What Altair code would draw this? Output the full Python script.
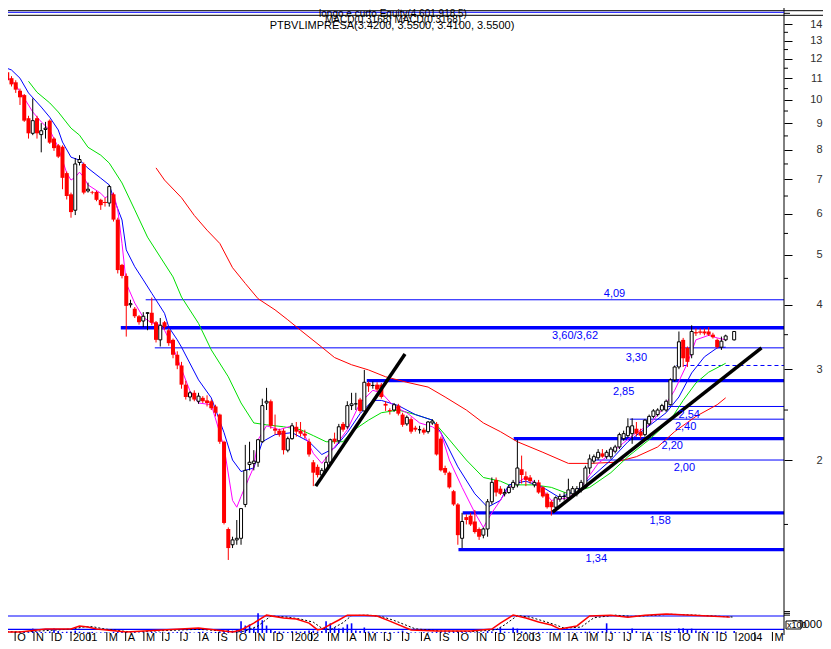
import altair as alt
import pandas as pd

FONT = "Liberation Sans"

# ---------------- weekly candles ----------------
first_week = "2000-09-04"
n_weeks = 174          # index 172 has no printed bar

opens = [12.0, 11.8, 11.3, 11.0, 10.8, 10.4, 10.2, 9.2, 8.6, 9.2,
         8.55, 8.75, 9.1, 8.4, 8.15, 8.1, 7.2, 6.55, 6.1, 7.55,
         7.5, 6.65, 6.62, 6.62, 6.39, 6.33, 6.3, 6.55, 5.85, 4.78,
         4.55, 4.0, 3.93, 3.8, 3.72, 3.85, 3.86, 3.7, 3.42, 3.7,
         3.57, 3.42, 3.2, 3.05, 2.8, 2.65, 2.7, 2.6, 2.64, 2.61,
         2.6, 2.54, 2.45, 2.17, 1.47, 1.37, 1.40, 1.41, 1.64, 1.96,
         1.97, 1.98, 2.17, 2.58, 2.6, 2.3, 2.28, 2.28, 2.09, 2.2,
         2.32, 2.28, 2.25, 2.17, 1.98, 1.94, 1.87, 1.91, 1.98, 2.2,
         2.18, 2.35, 2.32, 2.55, 2.57, 2.62, 2.49, 2.82, 2.79, 2.8,
         2.8, 2.57, 2.5, 2.5, 2.55, 2.45, 2.35, 2.4, 2.31, 2.29,
         2.29, 2.27, 2.36, 2.35, 2.2, 1.93, 1.89, 1.74, 1.64, 1.41,
         1.55, 1.56, 1.52, 1.47, 1.43, 1.47, 1.66, 1.83, 1.76, 1.72,
         1.73, 1.77, 1.79, 1.92, 1.86, 1.85, 1.79, 1.81, 1.77, 1.72,
         1.66, 1.62, 1.68, 1.7, 1.69, 1.72, 1.72, 1.75, 1.77, 1.93,
         1.99, 2.02, 2.06, 2.03, 2.03, 2.08, 2.12, 2.2, 2.23, 2.25,
         2.3, 2.27, 2.24, 2.35, 2.43, 2.45, 2.5, 2.5, 2.56, 2.86,
         3.03, 3.42, 3.3, 3.2, 3.54, 3.55, 3.55, 3.55, 3.5, 3.42,
         3.31, 3.42, None, 3.42]

highs = [12.2, 12.0, 11.4, 11.1, 10.9, 10.5, 10.25, 9.3, 10.05, 9.3,
         9.0, 9.05, 9.15, 8.45, 8.2, 8.15, 7.25, 6.6, 7.7, 7.8,
         7.55, 6.9, 6.65, 6.65, 6.42, 6.45, 6.83, 6.6, 5.9, 4.8,
         4.6, 4.09, 3.96, 3.82, 3.87, 3.87, 4.13, 3.72, 3.77, 3.72,
         3.6, 3.44, 3.25, 3.1, 2.85, 2.72, 2.73, 2.7, 2.66, 2.67,
         2.62, 2.56, 2.46, 2.18, 1.48, 1.42, 1.53, 1.61, 2.14, 2.17,
         2.09, 2.19, 2.63, 2.76, 2.62, 2.45, 2.3, 2.3, 2.22, 2.36,
         2.37, 2.37, 2.29, 2.2, 2.0, 1.96, 1.93, 2.03, 2.2, 2.26,
         2.35, 2.37, 2.6, 2.7, 2.7, 2.64, 2.99, 2.84, 2.84, 2.83,
         2.82, 2.6, 2.52, 2.58, 2.57, 2.47, 2.44, 2.42, 2.33, 2.33,
         2.31, 2.38, 2.4, 2.37, 2.22, 1.95, 1.9, 1.75, 1.65, 1.58,
         1.57, 1.58, 1.6, 1.48, 1.48, 1.68, 1.85, 1.85, 1.78, 1.76,
         1.79, 1.83, 2.19, 2.04, 1.9, 1.87, 1.83, 1.83, 1.78, 1.73,
         1.67, 1.7, 1.72, 1.73, 1.84, 1.78, 1.78, 1.83, 1.95, 2.05,
         2.05, 2.1, 2.1, 2.09, 2.12, 2.14, 2.26, 2.28, 2.41, 2.41,
         2.37, 2.3, 2.4, 2.45, 2.51, 2.52, 2.57, 2.62, 2.88, 3.05,
         3.55, 3.45, 3.32, 3.65, 3.6, 3.6, 3.6, 3.62, 3.53, 3.44,
         3.47, 3.5, None, 3.55]

lows = [11.7, 11.2, 10.7, 10.6, 10.3, 9.76, 9.05, 8.4, 8.53, 8.4,
        7.9, 8.4, 8.2, 7.95, 7.7, 6.7, 6.4, 5.9, 5.97, 7.45,
        6.55, 6.6, 6.55, 6.35, 6.11, 6.2, 6.2, 5.8, 4.6, 4.5,
        3.47, 3.95, 3.77, 3.66, 3.62, 3.57, 3.65, 3.38, 3.32, 3.58,
        3.33, 3.15, 3.0, 2.75, 2.62, 2.6, 2.6, 2.57, 2.58, 2.54,
        2.5, 2.43, 2.15, 1.5, 1.28, 1.35, 1.37, 1.37, 1.62, 1.91,
        1.91, 1.94, 2.16, 2.5, 2.3, 2.24, 2.22, 2.05, 2.07, 2.19,
        2.22, 2.22, 2.2, 2.03, 1.78, 1.85, 1.85, 1.89, 1.97, 2.15,
        2.15, 2.27, 2.3, 2.5, 2.5, 2.47, 2.48, 2.71, 2.75, 2.72,
        2.63, 2.49, 2.45, 2.48, 2.44, 2.32, 2.33, 2.25, 2.27, 2.25,
        2.24, 2.25, 2.34, 2.04, 1.9, 1.87, 1.76, 1.63, 1.37, 1.35,
        1.5, 1.49, 1.44, 1.4, 1.41, 1.42, 1.64, 1.7, 1.71, 1.7,
        1.72, 1.75, 1.77, 1.8, 1.78, 1.8, 1.77, 1.72, 1.69, 1.61,
        1.56, 1.6, 1.66, 1.67, 1.67, 1.7, 1.7, 1.73, 1.76, 1.88,
        1.97, 2.0, 2.02, 2.01, 2.01, 2.06, 2.1, 2.18, 2.21, 2.15,
        2.22, 2.2, 2.22, 2.33, 2.41, 2.43, 2.48, 2.48, 2.55, 2.84,
        3.0, 3.03, 3.03, 3.15, 3.48, 3.5, 3.49, 3.48, 3.44, 3.29,
        3.27, 3.4, None, 3.41]

closes = [11.8, 11.3, 10.9, 10.7, 10.45, 10.1, 9.1, 8.6, 9.1, 8.6,
          8.7, 8.8, 8.25, 8.05, 7.75, 7.05, 6.5, 6.05, 7.5, 7.65,
          6.6, 6.7, 6.6, 6.39, 6.24, 6.3, 6.78, 5.85, 4.67, 4.55,
          3.98, 4.02, 3.8, 3.7, 3.8, 3.86, 3.69, 3.42, 3.65, 3.62,
          3.37, 3.2, 3.05, 2.8, 2.65, 2.7, 2.62, 2.66, 2.6, 2.58,
          2.52, 2.47, 2.17, 1.51, 1.35, 1.4, 1.41, 1.61, 1.91, 1.98,
          1.99, 2.19, 2.55, 2.6, 2.33, 2.28, 2.24, 2.09, 2.2, 2.33,
          2.27, 2.25, 2.23, 2.05, 1.89, 1.87, 1.91, 1.98, 2.19, 2.17,
          2.32, 2.29, 2.55, 2.57, 2.57, 2.49, 2.83, 2.78, 2.79, 2.74,
          2.65, 2.55, 2.49, 2.56, 2.46, 2.34, 2.42, 2.27, 2.29, 2.29,
          2.26, 2.37, 2.38, 2.05, 1.91, 1.89, 1.77, 1.64, 1.43, 1.52,
          1.53, 1.5, 1.45, 1.42, 1.47, 1.66, 1.81, 1.73, 1.72, 1.73,
          1.77, 1.81, 1.93, 1.87, 1.83, 1.82, 1.81, 1.73, 1.7, 1.62,
          1.62, 1.69, 1.7, 1.7, 1.75, 1.76, 1.76, 1.81, 1.93, 2.01,
          2.03, 2.07, 2.03, 2.07, 2.1, 2.12, 2.24, 2.25, 2.32, 2.33,
          2.25, 2.23, 2.39, 2.43, 2.49, 2.5, 2.55, 2.6, 2.86, 3.03,
          3.39, 3.15, 3.1, 3.55, 3.52, 3.53, 3.52, 3.5, 3.46, 3.31,
          3.4, 3.48, None, 3.55]

# weekly volume, thousands
volume_k = [6, 5, 7, 5, 6, 8, 9, 7, 23, 9,
            8, 7, 10, 23, 12, 8, 9, 10, 14, 9,
            7, 6, 8, 5, 6, 7, 5, 9, 10, 12,
            8, 6, 7, 5, 6, 5, 8, 7, 6, 5,
            7, 6, 8, 9, 7, 6, 5, 8, 9, 6,
            7, 8, 10, 12, 18, 14, 20, 56, 37, 42,
            25, 93, 61, 37, 19, 12, 10, 9, 8, 12,
            10, 9, 11, 14, 14, 10, 12, 56, 47, 28,
            23, 28, 42, 47, 14, 12, 28, 10, 9, 8,
            7, 8, 6, 7, 9, 14, 6, 5, 6, 5,
            6, 5, 7, 9, 8, 6, 7, 8, 10, 9,
            7, 6, 5, 6, 8, 12, 10, 8, 28, 9,
            7, 28, 23, 10, 8, 7, 6, 8, 6, 7,
            8, 6, 5, 6, 7, 6, 5, 8, 9, 10,
            8, 9, 12, 47, 10, 8, 7, 6, 9, 23,
            12, 8, 7, 9, 6, 8, 10, 12, 14, 9,
            23, 25, 20, 23, 14, 10, 12, 8, 9, 11,
            8, 10, None, 12]

# ---------------- moving averages: (week index, value) ----------------
ma_magenta = [(0, 11.45), (4, 10.67), (7, 9.76), (8, 9.46), (10, 9.05), (12, 8.73), (14, 8.08),
              (16, 7.2), (17, 6.98), (18, 7.07), (19, 7.23), (20, 7.07), (21, 6.83), (24, 6.58),
              (25, 6.45), (27, 6.58), (28, 6.11), (29, 5.26), (30, 4.4), (32, 4.03), (34, 3.78),
              (36, 3.69), (38, 3.65), (39, 3.57), (41, 3.31), (43, 3.0), (45, 2.72), (47, 2.58),
              (50, 2.56), (53, 2.12), (55, 1.67), (56, 1.62), (57, 1.70), (60, 1.94), (61, 2.19),
              (63, 2.33), (66, 2.29), (69, 2.33), (72, 2.23), (74, 2.06), (76, 1.97), (79, 2.12),
              (82, 2.29), (85, 2.58), (88, 2.73), (90, 2.70), (93, 2.54), (96, 2.47), (99, 2.36),
              (102, 2.32), (104, 2.26), (106, 2.0), (109, 1.77), (112, 1.58), (114, 1.48),
              (116, 1.58), (118, 1.67), (120, 1.77), (124, 1.85), (127, 1.79), (130, 1.67),
              (134, 1.69), (137, 1.77), (141, 1.97), (144, 2.06), (147, 2.16), (150, 2.26),
              (153, 2.34), (156, 2.50), (159, 2.73), (162, 3.08), (164, 3.42), (167, 3.49),
              (169, 3.45), (171, 3.42)]
ma_blue = [(0, 11.66), (3, 11.41), (5, 11.0), (7, 10.3), (10, 9.67), (12, 9.24), (14, 8.73),
           (15, 8.27), (17, 7.73), (19, 7.63), (21, 7.36), (24, 7.04), (26, 6.83), (27, 6.45),
           (29, 5.84), (30, 5.11), (32, 4.74), (34, 4.47), (36, 4.21), (39, 3.85), (40, 3.62),
           (42, 3.42), (43, 3.31), (47, 2.86), (50, 2.64), (53, 2.26), (55, 2.0), (57, 1.90),
           (60, 1.93), (62, 2.17), (65, 2.24), (69, 2.26), (73, 2.17), (76, 2.05), (79, 2.11),
           (82, 2.26), (85, 2.46), (88, 2.61), (90, 2.61), (94, 2.55), (98, 2.45), (102, 2.39),
           (104, 2.26), (108, 1.94), (112, 1.72), (115, 1.62), (118, 1.67), (120, 1.79),
           (124, 1.82), (128, 1.77), (132, 1.69), (136, 1.75), (140, 1.87), (144, 2.0),
           (148, 2.17), (153, 2.33), (157, 2.47), (160, 2.65), (163, 2.95), (166, 3.17),
           (169, 3.30), (171, 3.31)]
ma_green = [(7, 10.85), (9, 10.33), (12, 9.85), (14, 9.46), (17, 8.8), (19, 8.53), (21, 8.08),
            (24, 7.8), (26, 7.53), (29, 6.89), (32, 6.11), (35, 5.41), (38, 4.95), (41, 4.53),
            (43, 4.14), (47, 3.68), (50, 3.27), (54, 2.90), (57, 2.58), (60, 2.36), (63, 2.34),
            (67, 2.32), (71, 2.29), (74, 2.23), (77, 2.17), (81, 2.17), (83, 2.27), (87, 2.39),
            (90, 2.47), (94, 2.50), (98, 2.45), (102, 2.39), (106, 2.19), (110, 2.0),
            (114, 1.85), (118, 1.82), (120, 1.79), (126, 1.79), (130, 1.77), (134, 1.72),
            (139, 1.77), (144, 1.89), (148, 2.03), (153, 2.19), (158, 2.39), (161, 2.61),
            (164, 2.82), (167, 2.96), (171, 3.08)]
ma_red = [(37, 7.37), (39, 6.98), (43, 6.45), (46, 5.96), (49, 5.58), (52, 5.26), (55, 4.72),
          (58, 4.4), (61, 4.11), (65, 3.91), (68, 3.74), (71, 3.57), (76, 3.31), (79, 3.16),
          (83, 3.06), (87, 2.99), (91, 2.90), (96, 2.83), (101, 2.77), (105, 2.65), (110, 2.50),
          (114, 2.36), (118, 2.27), (122, 2.17), (128, 2.07), (134, 1.97), (139, 1.97),
          (145, 1.98), (150, 2.03), (155, 2.12), (159, 2.27), (164, 2.43), (169, 2.56),
          (171, 2.64)]

# ---------------- oscillator (lower panel, 0-100) ----------------
osc_red = [(0, 8), (5, 8), (11, 21), (17, 21), (19, 35), (21, 30), (23, 21), (30, 8), (47, 26),
           (55, 8), (57, 17), (60, 48), (63, 84), (67, 71), (70, 66), (73, 48), (75, 17),
           (76, 21), (80, 62), (82, 84), (86, 84), (89, 80), (92, 57), (97, 17), (103, 12),
           (111, 12), (116, 21), (118, 48), (121, 84), (124, 71), (127, 53), (130, 39),
           (132, 21), (136, 35), (139, 80), (144, 84), (148, 75), (152, 84), (157, 89),
           (163, 84), (167, 80), (172, 75)]
osc_black = [(0, 10), (6, 8), (12, 15), (17, 21), (20, 30), (22, 32), (25, 21), (31, 8),
             (47, 20), (56, 8), (58, 12), (61, 35), (64, 80), (68, 75), (71, 66), (74, 52),
             (76, 25), (78, 18), (81, 50), (83, 82), (87, 84), (90, 78), (93, 60), (98, 22),
             (104, 12), (112, 10), (117, 18), (119, 40), (122, 82), (125, 75), (128, 58),
             (131, 40), (133, 25), (137, 30), (140, 72), (145, 84), (149, 78), (153, 82),
             (158, 88), (164, 84), (168, 80), (173, 75)]
osc_levels = [20, 80]

# ---------------- support / resistance levels ----------------
level_values = [4.09, 3.61, 3.30, 2.85, 2.54, 2.40, 2.20, 2.00, 1.58, 1.34]
level_starts = ["2001-05-04", "2001-03-24", "2001-05-19", "2002-05-03", "2003-09-02",
                "2003-07-10", "2002-12-31", "2003-05-08", "2002-10-08", "2002-10-01"]
level_thick = [False, True, False, True, False, False, True, False, True, True]
dashed_level = (3.05, "2003-09-25")

label_texts = ["4,09", "3,60/3,62", "3,30", "2,85", "2,54", "2,40", "2,20", "2,00", "1,58", "1,34"]
label_dates = ["2003-06-15", "2003-04-11", "2003-07-21", "2003-06-30", "2003-10-16",
               "2003-10-10", "2003-09-18", "2003-10-08", "2003-08-29", "2003-05-16"]
label_prices = [4.2, 3.48, 3.16, 2.71, 2.45, 2.32, 2.13, 1.93, 1.52, 1.285]

# trend lines: (date, price) end points
trend_lines = {
    "t1": [("2002-02-08", 1.78), ("2002-07-05", 3.21)],
    "t2": [("2003-03-05", 1.585), ("2004-02-12", 3.30)],
}

# axis ticks
price_ticks = [2, 3, 4, 5, 6, 7, 8, 9, 10, 11, 12, 13, 14]
price_minor = [1.5, 2.5, 3.5, 4.5, 5.5, 6.5, 7.5, 8.5, 9.5, 10.5, 11.5, 12.5, 13.5]
month_labels = ["O", "N", "D",
                "2001", "", "M", "A", "M", "J", "J", "A", "S", "O", "N", "D",
                "2002", "", "M", "A", "M", "J", "J", "A", "S", "O", "N", "D",
                "2003", "", "M", "A", "M", "J", "J", "A", "S", "O", "N", "D",
                "2004", "", "M"]

# ======================================================================
for arr in (opens, highs, lows, closes, volume_k):
    assert len(arr) == n_weeks, len(arr)

weeks = pd.date_range(first_week, periods=n_weeks, freq="7D")
wk = [d.strftime("%Y-%m-%d") for d in weeks]

candles = pd.DataFrame({"date": wk, "open": opens, "high": highs, "low": lows,
                        "close": closes, "vol": volume_k}).dropna()

def series_df(pairs, name):
    return pd.DataFrame({"date": [wk[i] for i, _ in pairs],
                         "value": [v for _, v in pairs], "series": name})

ma_df = pd.concat([series_df(ma_red, "red"), series_df(ma_green, "green"),
                   series_df(ma_blue, "blue"), series_df(ma_magenta, "magenta")])
osc_r = series_df(osc_red, "k")
osc_b = series_df(osc_black, "d")

# layout geometry: plot area 776 x 625 px, whole svg 815 x 633 px
W, H = 776, 625
PAD_R, PAD_B = 39, 8
t0 = pd.Timestamp("2001-01-01")
px_day = 0.6073
x_lo = t0 + pd.Timedelta(days=-63 / px_day)
x_hi = t0 + pd.Timedelta(days=(W - 63) / px_day)
x_dom = [int(x_lo.value // 1_000_000), int(x_hi.value // 1_000_000)]
end_date = x_hi.strftime("%Y-%m-%dT%H:%M:%S")

x_scale = alt.Scale(type="utc", domain=x_dom, padding=0)
X = alt.X("date:T", scale=x_scale, axis=None)

y_main = alt.Scale(type="log", domain=[1.0147, 14.52], range=[604, 8], nice=False, zero=False)
y_low = alt.Scale(type="linear", domain=[0, 100], range=[625.7, 603.6], nice=False, zero=False)

Y_AXIS = alt.Axis(orient="right", values=price_ticks, tickSize=8, tickColor="black",
                  labelAlign="right", labelPadding=30, labelBaseline="middle",
                  labelFont=FONT, labelFontSize=11, labelColor="#303030",
                  domain=False, grid=False, title=None, labelOverlap=False,
                  labelFlush=False, format="d")

def YM(field):
    return alt.Y(field, scale=y_main, axis=Y_AXIS)

def YL(field):
    return alt.Y(field, scale=y_low, axis=None)

up = "datum.close >= datum.open"
wicks = alt.Chart(candles).mark_rule(strokeWidth=1, clip=True).encode(
    x=X, y=YM("low:Q"), y2="high:Q",
    color=alt.condition(up, alt.value("black"), alt.value("#ff0000")))
body_up = alt.Chart(candles).transform_filter(up).mark_bar(
    size=3, fill="white", stroke="black", strokeWidth=1, clip=True).encode(
    x=X, y=YM("open:Q"), y2="close:Q")
body_dn = alt.Chart(candles).transform_filter("datum.close < datum.open").mark_bar(
    size=4, color="#ff0000", clip=True).encode(x=X, y=YM("open:Q"), y2="close:Q")

ma_lines = alt.Chart(ma_df).mark_line(strokeWidth=1, clip=True).encode(
    x=X, y=YM("value:Q"),
    color=alt.Color("series:N", legend=None,
                    scale=alt.Scale(domain=["red", "green", "blue", "magenta"],
                                    range=["#ff0000", "#00e000", "#0000ff", "#ff00ff"])),
    detail="series:N")

lv = pd.DataFrame({"value": level_values, "start": level_starts, "thick": level_thick,
                   "end": end_date})
lv_thick = alt.Chart(lv).transform_filter("datum.thick").mark_rule(
    strokeWidth=3.3, color="#0000ff", clip=True).encode(
    x=alt.X("start:T", scale=x_scale, axis=None), x2="end:T", y=YM("value:Q"))
lv_thin = alt.Chart(lv).transform_filter("!datum.thick").mark_rule(
    strokeWidth=1, color="#0000ff", clip=True).encode(
    x=alt.X("start:T", scale=x_scale, axis=None), x2="end:T", y=YM("value:Q"))
lv_dash = alt.Chart(pd.DataFrame({"value": [dashed_level[0]], "start": [dashed_level[1]],
                                  "end": [end_date]})).mark_rule(
    strokeWidth=1, color="#0000ff", strokeDash=[4, 3], clip=True).encode(
    x=alt.X("start:T", scale=x_scale, axis=None), x2="end:T", y=YM("value:Q"))

lab = pd.DataFrame({"date": label_dates, "price": label_prices, "text": label_texts})
labels = alt.Chart(lab).mark_text(font=FONT, fontSize=11, color="#0000ff",
                                  baseline="middle", align="center").encode(
    x=X, y=YM("price:Q"), text="text:N")

tl = pd.DataFrame([{"line": k, "date": d, "price": p}
                   for k, pts in trend_lines.items() for d, p in pts])
trends = alt.Chart(tl).mark_line(strokeWidth=3.5, color="black", clip=True).encode(
    x=X, y=YM("price:Q"), detail="line:N")

minor = alt.Chart(pd.DataFrame({"v": price_minor})).mark_rule(color="black").encode(
    x=alt.value(W), x2=alt.value(W + 4), y=YM("v:Q"))

main = alt.layer(lv_thin, lv_dash, lv_thick, ma_lines, wicks, body_dn, body_up,
                 trends, labels, minor)

# ---------------- lower panel ----------------
vol = alt.Chart(candles).mark_bar(size=1.6, color="#0000ff", clip=True).encode(
    x=X, y=YL("vol:Q"))
osc_lv = alt.Chart(pd.DataFrame({"v": osc_levels})).mark_rule(
    color="#0000ff", strokeWidth=1.2).encode(x=alt.value(0), x2=alt.value(W), y=YL("v:Q"))
osc_d = alt.Chart(osc_b).mark_line(color="black", strokeWidth=1, strokeDash=[2, 2],
                                   clip=True).encode(x=X, y=YL("value:Q"))
osc_k = alt.Chart(osc_r).mark_line(color="#ff0000", strokeWidth=1.5,
                                   clip=True).encode(x=X, y=YL("value:Q"))
low_ticks = alt.Chart(pd.DataFrame({"v": [100, 92, 84]})).mark_rule(color="black").encode(
    x=alt.value(W), x2=alt.value(W + 6), y=YL("v:Q"))
lower = alt.layer(vol, osc_lv, osc_d, osc_k, low_ticks)

# ---------------- decorations: frame, x labels, header ----------------
months = pd.date_range("2000-10-01", periods=len(month_labels), freq="MS")
mdf = pd.DataFrame({"date": [d.strftime("%Y-%m-%d") for d in months], "text": month_labels})
m_ticks = alt.Chart(mdf).mark_rule(color="black").encode(
    x=X, y=alt.value(H - 1), y2=alt.value(H + PAD_B))
m_text = alt.Chart(mdf).mark_text(font=FONT, fontSize=11, align="left", baseline="alphabetic",
                                  dx=2, color="black").encode(
    x=X, y=alt.value(H + PAD_B - 0.5), text="text:N")

one = pd.DataFrame({"a": [0]})
axis_line = alt.Chart(one).mark_rule(color="black").encode(
    x=alt.value(W), y=alt.value(0), y2=alt.value(H + 2))
top_l1 = alt.Chart(one).mark_rule(color="black").encode(
    x=alt.value(0), x2=alt.value(W + PAD_R), y=alt.value(2.7))
top_l2 = alt.Chart(one).mark_rule(color="black").encode(
    x=alt.value(0), x2=alt.value(W + PAD_R), y=alt.value(7.3))
top_blue = alt.Chart(one).mark_rule(color="#0000ff").encode(
    x=alt.value(0), x2=alt.value(W), y=alt.value(4.3))
top_tick = alt.Chart(one).mark_rule(color="black").encode(
    x=alt.value(W), x2=alt.value(W + 6), y=alt.value(5.3))

head = pd.DataFrame({"text": ["longo e curto Equity(4,601,918.5)",
                              "MACD(0.3168) MACD(0.3168)",
                              "PTBVLIMPRESA(3.4200, 3.5500, 3.4100, 3.5500)"],
                     "x": [385, 385, 384], "y": [6.2, 11.5, 17.5],
                     "size": [10, 10, 11]})
head_text = alt.Chart(head).mark_text(font=FONT, color="black",
                                      baseline="middle", align="center").encode(
    x=alt.X("x:Q", scale=None), y=alt.Y("y:Q", scale=None), text="text:N",
    size=alt.Size("size:Q", scale=None, legend=None))

unit = alt.Chart(pd.DataFrame({"t": ["50000"]})).mark_text(
    font=FONT, fontSize=11, color="black", align="right", baseline="middle").encode(
    x=alt.value(W + PAD_R - 1), y=alt.value(617), text="t:N")
unit_box = alt.Chart(one).mark_rect(fill="white", stroke="black", strokeWidth=1).encode(
    x=alt.value(778), x2=alt.value(793), y=alt.value(613), y2=alt.value(621))
unit_x = alt.Chart(pd.DataFrame({"t": ["x100"]})).mark_text(
    font=FONT, fontSize=9, color="black", align="left", baseline="middle").encode(
    x=alt.value(779), y=alt.value(617), text="t:N")

deco = alt.layer(m_ticks, m_text, axis_line, top_l1, top_l2, top_blue, top_tick,
                 head_text, unit, unit_box, unit_x)

chart = alt.layer(main, lower, deco).resolve_scale(y="independent").properties(
    width=W, height=H,
    autosize=alt.AutoSizeParams(type="none"),
    padding={"left": 0, "top": 0, "right": PAD_R, "bottom": PAD_B},
    background="white",
).configure_view(stroke=None)

chart.save("out.html", embed_options={"renderer": "svg", "actions": False})
